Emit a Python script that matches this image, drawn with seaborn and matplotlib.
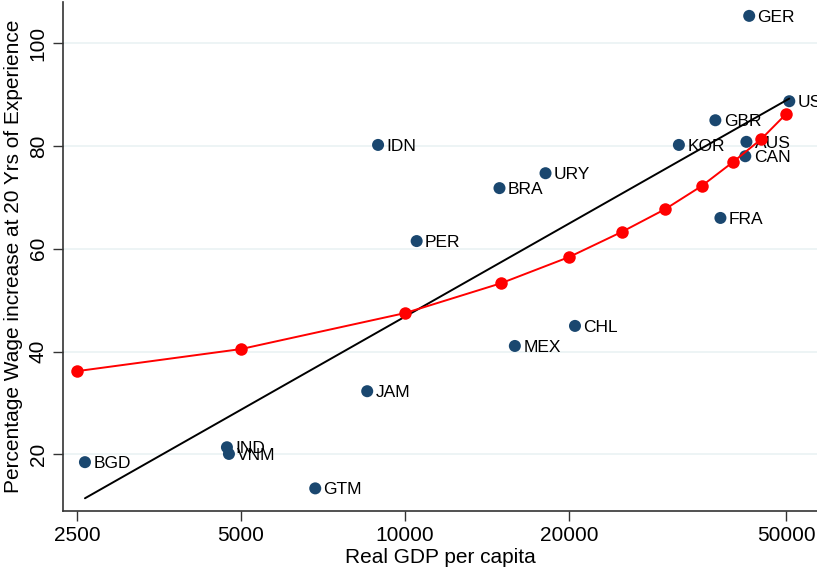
import numpy as np
import pandas as pd
import matplotlib
matplotlib.use("Agg")
import matplotlib.pyplot as plt
import seaborn as sns
from matplotlib.ticker import FixedLocator, NullLocator, FixedFormatter

# Country observations: GDP per capita and wage growth after 20 years of experience
countries = ["GER", "USA", "GBR", "KOR", "AUS", "CAN", "FRA", "IDN", "URY",
             "BRA", "PER", "CHL", "MEX", "JAM", "IND", "VNM", "BGD", "GTM"]
gdp = [42800, 50700, 37100, 31800, 42300, 42100, 37900, 8920, 18100,
       14900, 10500, 20500, 15900, 8520, 4710, 4750, 2585, 6840]
wage_growth = [105.3, 88.7, 85.0, 80.2, 80.8, 78.0, 66.0, 80.2, 74.7,
               71.8, 61.5, 45.0, 41.1, 32.3, 21.4, 20.1, 18.5, 13.4]

# Model-implied profile over a grid of income levels
model_gdp = [2500, 5000, 10000, 15000, 20000, 25000, 30000, 35000, 40000, 45000, 50000]
model_growth = [36.2, 40.5, 47.5, 53.3, 58.4, 63.3, 67.7, 72.2, 76.9, 81.3, 86.2]

xticks = [2500, 5000, 10000, 20000, 50000]
xtick_labels = ["2500", "5000", "10000", "20000", "50000"]
yticks = [20, 40, 60, 80, 100]

df = pd.DataFrame({"country": countries, "gdp": gdp, "growth": wage_growth})
model = pd.DataFrame({"gdp": model_gdp, "growth": model_growth})

# Linear fit of wage growth on log GDP, drawn over the observed range
coef = np.polyfit(np.log(df["gdp"]), df["growth"], 1)
fit_x = np.array([df["gdp"].min(), df["gdp"].max()])
fit = pd.DataFrame({"gdp": fit_x, "growth": np.polyval(coef, np.log(fit_x))})

sns.set_theme(style="white")
plt.rcParams["font.family"] = ["Liberation Sans", "DejaVu Sans"]
plt.rcParams["text.color"] = "black"
plt.rcParams["axes.labelcolor"] = "black"

navy = "#1a476f"
fig = plt.figure(figsize=(8.17, 5.68), dpi=100)
ax = fig.add_axes([63 / 817, (568 - 511) / 568, (817 - 63) / 817, (511 - 2) / 568])
ax.set_xscale("log")

for y in yticks:
    ax.axhline(y, color="#eaf2f3", lw=1.2, zorder=0)

sns.scatterplot(data=df, x="gdp", y="growth", ax=ax, color=navy, s=75,
                edgecolor="none", zorder=3, legend=False)
for _, r in df.iterrows():
    ax.annotate(r["country"], (r["gdp"], r["growth"]), xytext=(6, -1),
                textcoords="offset points", va="center", ha="left",
                fontsize=12.5, color="black", zorder=4, annotation_clip=False)

sns.lineplot(data=fit, x="gdp", y="growth", ax=ax, color="black", lw=1.4,
             zorder=5, legend=False)
sns.lineplot(data=model, x="gdp", y="growth", ax=ax, color="#ff0000", lw=1.4,
             marker="o", markersize=9, markeredgecolor="none", zorder=6, legend=False)

ax.set_xlim(2356, 57000)
ax.set_ylim(9.0, 108)
ax.xaxis.set_major_locator(FixedLocator(xticks))
ax.xaxis.set_major_formatter(FixedFormatter(xtick_labels))
ax.xaxis.set_minor_locator(NullLocator())
ax.yaxis.set_major_locator(FixedLocator(yticks))
ax.tick_params(axis="both", which="major", direction="out", length=7, width=1,
               color="#333333", labelcolor="black", labelsize=15, pad=4,
               left=True, bottom=True)
for lbl in ax.get_yticklabels():
    lbl.set_rotation(90)
    lbl.set_va("center")

for side in ["top", "right"]:
    ax.spines[side].set_visible(False)
for side in ["left", "bottom"]:
    ax.spines[side].set_color("#333333")
    ax.spines[side].set_linewidth(1.2)

ax.set_xlabel("Real GDP per capita", fontsize=15, labelpad=2)
ax.set_ylabel("Percentage Wage increase at 20 Yrs of Experience", fontsize=15, labelpad=4)

fig.savefig("out.png", dpi=100)
